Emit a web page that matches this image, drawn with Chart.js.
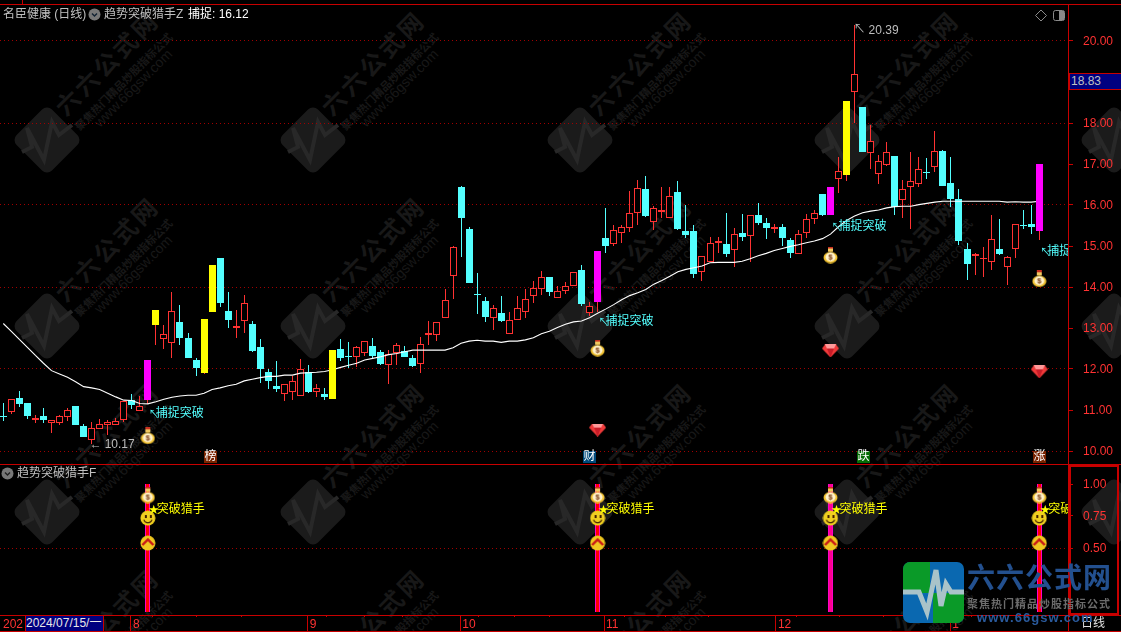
<!DOCTYPE html>
<html>
<head>
<meta charset="utf-8">
<title>名臣健康 (日线)</title>
<script src="https://cdn.jsdelivr.net/npm/chart.js@4/dist/chart.umd.min.js"></script>
<style>
html, body { margin: 0; padding: 0; background: #000; width: 1121px; height: 632px; overflow: hidden; }
body { position: relative; font: 12px "Liberation Sans", "Noto Sans CJK SC", sans-serif; color: #c0c0c0; }
canvas { position: absolute; left: 0; z-index: 1; }
#mainChart { top: 0; }
#subChart { top: 465px; }
.txt, .ln { position: absolute; z-index: 2; white-space: nowrap; }
.ln { background: #c80000; }
.txt { line-height: 16px; }
.wm { position: absolute; z-index: 0; white-space: nowrap; font-family: "Noto Sans CJK SC", sans-serif; font-weight: 700; transform: translate(-50%, -50%) rotate(-45deg); color: #181818; }
.logo { position: absolute; z-index: 3; white-space: nowrap; font-family: "Noto Sans CJK SC", sans-serif; font-weight: 700; }
</style>
</head>
<body>
<canvas id="mainChart" width="1121" height="465"></canvas>
<canvas id="subChart" width="1121" height="167"></canvas>

<div class="ln" style="left:0;top:4px;width:1121px;height:1px"></div>
<div class="ln" style="left:22px;top:0;width:1px;height:4px"></div>
<div class="ln" style="left:1068px;top:4px;width:1px;height:628px"></div>
<div class="ln" style="left:0;top:464px;width:1121px;height:1px"></div>
<div class="ln" style="left:0;top:615px;width:1121px;height:1px"></div>
<div class="ln" style="left:0;top:631px;width:1121px;height:1px"></div>
<div class="ln" style="left:25px;top:615px;width:1px;height:17px"></div>
<div class="ln" style="left:103px;top:615px;width:1px;height:17px"></div>
<div style="position:absolute;z-index:2;left:1069px;top:465px;width:46px;height:146px;border:2px solid #c80000"></div>

<div class="txt" style="left:3px;top:6px">名臣健康 (日线)</div>
<svg style="position:absolute;z-index:2;left:88px;top:8px" width="13" height="13"><circle cx="6.5" cy="6.5" r="6" fill="#787878"/><path d="M4 5.5 L6.5 8 L9 5.5" stroke="#123" stroke-width="1.4" fill="none"/></svg>
<div class="txt" style="left:104px;top:6px">趋势突破猎手Z</div>
<div class="txt" style="left:188px;top:6px;color:#fff">捕捉: 16.12</div>
<svg style="position:absolute;z-index:2;left:1034px;top:9px" width="32" height="13"><path d="M7 1 L12.5 6.5 L7 12 L1.5 6.5 Z" stroke="#8a8a8a" fill="none"/><rect x="19.5" y="1.5" width="11" height="10" rx="2" stroke="#8a8a8a" fill="none"/><rect x="25" y="2" width="5" height="9" fill="#8a8a8a"/></svg>

<svg style="position:absolute;z-index:2;left:1px;top:467px" width="13" height="13"><circle cx="6.5" cy="6.5" r="6" fill="#787878"/><path d="M4 5.5 L6.5 8 L9 5.5" stroke="#222" stroke-width="1.4" fill="none"/></svg>
<div class="txt" style="left:17px;top:465px">趋势突破猎手F</div>

<div class="txt" style="left:1069px;top:73px;width:50px;height:15px;line-height:15px;background:#000080;border:1px solid #c80000;padding-left:1px;box-sizing:content-box">18.83</div>
<div class="txt" style="left:3px;top:616px;color:#ff3232">202</div>
<div class="txt" style="left:26px;top:616px;width:77px;height:15px;line-height:15px;background:#000080;color:#e8e8e8">2024/07/15/一</div>
<div class="txt" style="left:1081px;top:615px;color:#e0e0e0">日线</div>

<svg style="position:absolute;z-index:3;left:903px;top:562px" width="61" height="61">
  <defs><clipPath id="lc"><rect width="61" height="61" rx="7"/></clipPath></defs>
  <g clip-path="url(#lc)">
    <rect width="61" height="61" fill="#0a68b0"/>
    <rect x="0" y="0" width="27" height="31" fill="#0a9a28"/>
    <rect x="30" y="31" width="31" height="30" fill="#0a9a28"/>
    <polyline points="0,30 16,30 24,50 33,8 38,44 43,22 48,30 61,30" fill="none" stroke="#a9c3c9" stroke-width="5"/>
  </g>
</svg>
<div class="logo" style="left:967px;top:557px;font-size:28px;line-height:38px;letter-spacing:1px;color:#23508f">六六公式网</div>
<div class="logo" style="left:967px;top:596px;font-size:11px;line-height:14px;letter-spacing:1px;color:#6c6c6c">聚焦热门精品炒股指标公式</div>
<div class="logo" style="left:977px;top:610px;font-size:13px;line-height:16px;letter-spacing:1.05px;color:#2a5a9c;font-family:'Liberation Sans',sans-serif">www.66gsw.com</div>

<script>
// candle data, one value per trading day
const opens = [10.86,10.96,11.29,11.17,10.76,10.85,10.69,10.69,10.84,11.10,10.61,10.28,10.54,10.64,10.64,10.76,11.24,10.98,11.24,13.07,
  12.74,12.64,13.15,12.75,12.22,11.90,13.39,14.71,13.41,13.01,13.18,13.10,12.54,11.93,11.59,11.40,11.45,11.35,11.93,11.45,
  11.39,11.27,12.49,12.32,12.30,12.40,12.56,12.41,12.09,12.38,12.44,12.27,12.13,12.82,12.84,13.25,14.28,16.44,15.41,13.83,
  13.66,13.25,13.37,12.86,13.20,13.40,13.79,13.96,14.24,13.74,13.90,14.03,14.41,13.37,13.63,15.20,15.06,15.31,15.45,15.80,
  16.39,15.58,15.83,15.68,16.32,15.37,15.37,14.36,14.62,15.07,15.05,14.90,15.32,15.25,15.76,15.56,15.41,15.46,15.15,14.81,
  15.31,15.66,16.27,15.76,16.64,16.74,18.76,18.39,17.28,16.76,16.98,17.20,16.13,16.45,16.52,16.80,16.93,17.32,16.54,16.15,
  14.93,14.75,14.68,14.60,14.93,14.48,14.92,15.51,15.54,15.37];
const highs = [11.16,11.26,11.46,11.17,10.89,11.04,10.76,10.89,11.05,11.10,10.66,10.71,10.77,10.76,10.80,11.22,11.39,11.34,12.22,13.44,
  13.07,13.88,13.56,12.89,12.27,13.22,14.54,14.71,13.88,13.44,13.80,13.18,12.74,12.01,12.20,11.63,11.83,12.24,12.10,11.63,
  11.54,12.46,12.73,12.66,12.56,12.68,12.76,12.46,12.46,12.63,12.56,12.33,12.78,13.17,13.14,13.95,14.99,16.47,15.46,14.34,
  13.76,13.56,13.78,13.38,13.78,13.95,14.15,14.39,14.24,14.02,14.12,14.36,14.54,13.63,14.88,15.93,15.51,15.51,16.34,16.61,
  16.71,15.98,16.44,16.44,16.59,16.00,15.51,14.75,15.22,15.22,15.80,15.43,15.78,15.75,16.05,15.68,15.54,15.54,15.20,15.39,
  15.78,15.87,16.27,16.44,17.17,18.54,20.39,18.39,17.95,17.22,17.54,17.20,16.61,17.29,17.17,17.15,17.80,17.34,17.17,16.39,
  15.07,14.82,14.98,15.76,15.66,14.76,15.53,15.88,16.00,17.00];
const lows = [10.74,10.90,11.08,10.79,10.69,10.69,10.45,10.63,10.74,10.64,10.35,10.17,10.54,10.39,10.63,10.71,11.02,10.98,11.15,12.59,
  12.49,12.27,12.59,12.27,11.83,11.88,13.39,13.52,13.01,12.76,12.89,12.42,11.67,11.52,11.45,11.22,11.24,11.35,11.42,11.31,
  11.24,11.27,12.20,12.02,12.06,12.32,12.25,12.10,11.63,12.10,12.30,12.05,11.91,12.59,12.68,13.25,13.71,14.72,14.10,13.34,
  13.15,12.95,13.15,12.86,13.20,13.24,13.61,13.80,13.78,13.74,13.83,14.03,13.54,13.29,13.39,14.84,15.00,15.07,15.35,15.51,
  15.71,15.39,15.68,15.68,15.39,15.20,14.22,14.15,14.62,14.83,14.73,14.49,15.12,14.62,15.51,15.17,15.32,15.00,14.71,14.81,
  15.20,15.54,15.73,15.76,16.30,16.59,18.01,17.29,16.89,16.52,16.95,15.76,15.69,15.42,16.45,16.63,16.81,16.47,15.96,15.02,
  14.17,14.29,14.24,14.41,14.78,14.05,14.71,15.41,15.29,15.15];
const closes = [10.84,11.26,11.15,10.85,10.80,10.76,10.76,10.85,10.99,10.64,10.35,10.55,10.65,10.70,10.72,11.22,11.11,11.09,12.22,13.44,
  12.85,13.41,12.76,12.27,12.02,13.22,14.54,13.62,13.20,13.05,13.60,12.45,12.01,11.71,11.51,11.63,11.70,11.99,11.44,11.53,
  11.32,12.46,12.27,12.30,12.53,12.68,12.32,12.12,12.37,12.58,12.30,12.07,12.60,12.87,13.14,13.68,14.97,15.68,14.10,13.80,
  13.27,13.48,13.17,13.19,13.50,13.70,13.97,14.24,13.88,13.90,14.02,14.36,13.59,13.53,14.88,15.00,15.38,15.46,15.80,16.41,
  15.73,15.92,15.88,16.21,15.41,15.27,14.32,14.75,15.07,15.12,14.80,15.29,15.22,15.75,15.56,15.44,15.46,15.20,14.83,15.29,
  15.65,15.80,15.76,16.44,16.84,18.54,19.19,17.29,17.55,17.07,17.29,15.94,16.38,16.58,16.87,16.78,17.31,16.47,16.15,15.12,
  14.56,14.80,14.71,15.16,14.80,14.72,15.53,15.49,15.46,17.00];
// white moving average line
const maLine = [13.11,12.92,12.72,12.53,12.33,12.14,11.96,11.88,11.80,11.69,11.57,11.54,11.50,11.41,11.32,11.24,11.23,11.16,11.15,11.20,
  11.26,11.31,11.34,11.36,11.36,11.41,11.50,11.54,11.59,11.63,11.71,11.75,11.79,11.82,11.82,11.85,11.85,11.90,11.91,11.92,
  11.94,11.98,12.04,12.09,12.14,12.22,12.26,12.30,12.35,12.38,12.42,12.46,12.46,12.46,12.46,12.46,12.52,12.63,12.68,12.70,
  12.68,12.68,12.65,12.68,12.68,12.71,12.76,12.86,12.92,13.01,13.09,13.15,13.17,13.25,13.36,13.46,13.57,13.69,13.79,13.86,
  13.94,14.07,14.16,14.26,14.37,14.43,14.47,14.51,14.59,14.60,14.60,14.60,14.63,14.69,14.76,14.82,14.89,14.94,14.99,15.03,
  15.08,15.12,15.18,15.29,15.47,15.62,15.73,15.81,15.85,15.88,15.93,15.96,15.97,15.97,16.01,16.04,16.07,16.09,16.09,16.09,
  16.09,16.09,16.09,16.09,16.09,16.07,16.08,16.07,16.07,16.09];

// days painted solid by the indicator
const magentaDays = [18, 74, 103, 129];
const yellowDays = [19, 25, 26, 41, 105];

const mainTicks = [10, 11, 12, 13, 14, 15, 16, 17, 18, 20];
const mainGrid = [10, 12, 14, 16, 18, 20];
const subTicks = [0.5, 0.75, 1];

// markers
const signalDays = [18, 74, 103, 129];
const bagPrices = [10.37, 12.51, 14.78, 14.20];
const gemDays = [74, 103, 129];
const gemPrices = [10.51, 12.44, 11.93];
const labelPrices = [10.90, 13.15, 15.46, 14.85];
const tagDays = [25.8, 72.87, 107.05, 129];
const tagTexts = ['榜', '财', '跌', '涨'];
const tagColors = ['#7a2400', '#00497a', '#056b05', '#7a2400'];

// lower panel
const subBars = [1, 1, 1, 1];
const subInner = ['#ff0000', '#ff0000', '#ff0090', '#ff0000'];
const subBag = [0.914, 0.914, 0.914, 0.914];
const subSmile = [0.734, 0.734, 0.734, 0.734];
const subUp = [0.539, 0.539, 0.539, 0.539];
const subTextLevel = 0.797;

// date strip
const monthTicks = [15.9, 37.9, 56.9, 74.8, 96.2, 117.9];
const monthLabels = ['8', '9', '10', '11', '12', '1'];
const weekTicks = [21.3, 26.9, 32.4, 42.5, 47.4, 52.1, 61.4, 65.8, 70.3, 79.9, 85.1, 90.4, 101.3, 106.9, 112.4, 123.3];

const RED = '#ff3232', CYAN = '#54ffff', GRID = '#a00000', FONT = '"Liberation Sans","Noto Sans CJK SC",sans-serif';
const isSolid = i => magentaDays.includes(i) || yellowDays.includes(i);
const days = opens.map((_, i) => i);
const isUp = i => closes[i] >= opens[i];

// watermark tiles
[47, 313, 580, 847, 1114].forEach(cx => [140, 326, 512, 698].forEach(cy => {
  const s = document.createElementNS('http://www.w3.org/2000/svg', 'svg');
  s.setAttribute('width', 90); s.setAttribute('height', 90);
  s.style.cssText = 'position:absolute;z-index:0;left:' + (cx - 45) + 'px;top:' + (cy - 45) + 'px';
  s.innerHTML = '<rect x="20" y="20" width="50" height="50" rx="7" fill="#1b1b1b" transform="rotate(45 45 45)"/>' +
    '<polyline points="20,57 30,52 25,33 42,65 50,27 57,40 70,30" fill="none" stroke="#282828" stroke-width="4"/>';
  document.body.appendChild(s);
  [['六六公式网', 24, 59, -78, 3], ['聚焦热门精品炒股指标公式', 11, 76, -59, 0], ['www.66gsw.com', 14, 86, -52, 0]].forEach(t => {
    const d = document.createElement('div');
    d.className = 'wm';
    d.textContent = t[0];
    d.style.fontSize = t[1] + 'px';
    d.style.letterSpacing = t[4] + 'px';
    d.style.left = (cx + t[2]) + 'px';
    d.style.top = (cy + t[3]) + 'px';
    if (t[1] === 14) { d.style.fontWeight = 400; d.style.fontFamily = '"Liberation Sans",sans-serif'; }
    document.body.appendChild(d);
  });
}));

// small pictures used as point styles
function sprite(w, h, draw) {
  const c = document.createElement('canvas');
  c.width = w; c.height = h;
  draw(c.getContext('2d'));
  return c;
}
const bagIcon = sprite(15, 17, g => {
  g.fillStyle = '#c83020'; g.fillRect(5, 0, 5, 2);
  g.fillStyle = '#f0c860'; g.fillRect(5, 2, 5, 3);
  g.beginPath(); g.ellipse(7.5, 11, 7, 5.8, 0, 0, Math.PI * 2); g.fillStyle = '#f2c230'; g.fill();
  g.beginPath(); g.ellipse(7.5, 10.5, 5, 4.4, 0, 0, Math.PI * 2); g.fillStyle = '#fff2cc'; g.fill();
  g.fillStyle = '#7a3a10'; g.font = 'bold 8px "Liberation Sans"'; g.textAlign = 'center'; g.textBaseline = 'middle';
  g.fillText('$', 7.5, 10.8);
});
const gemIcon = sprite(17, 13, g => {
  g.beginPath(); g.moveTo(3, 0); g.lineTo(14, 0); g.lineTo(17, 4); g.lineTo(8.5, 13); g.lineTo(0, 4); g.closePath();
  g.fillStyle = '#f03a3a'; g.fill();
  g.fillStyle = '#ff9a9a'; g.beginPath(); g.moveTo(3, 0); g.lineTo(14, 0); g.lineTo(12, 4); g.lineTo(5, 4); g.closePath(); g.fill();
  g.fillStyle = '#c81c28'; g.beginPath(); g.moveTo(5, 4); g.lineTo(12, 4); g.lineTo(8.5, 13); g.closePath(); g.fill();
});
const smileIcon = sprite(16, 16, g => {
  g.beginPath(); g.arc(8, 8, 7.5, 0, Math.PI * 2); g.fillStyle = '#f0d020'; g.fill();
  g.fillStyle = '#402000'; g.fillRect(5, 5, 2, 3); g.fillRect(10, 5, 2, 3);
  g.beginPath(); g.arc(8, 8.5, 4.2, 0.25, Math.PI - 0.25); g.strokeStyle = '#402000'; g.lineWidth = 1.2; g.stroke();
});
const upIcon = sprite(16, 16, g => {
  g.beginPath(); g.arc(8, 8, 7.5, 0, Math.PI * 2); g.fillStyle = '#f0c820'; g.fill();
  g.beginPath(); g.moveTo(2.5, 10); g.lineTo(8, 4.5); g.lineTo(13.5, 10); g.strokeStyle = '#c81818'; g.lineWidth = 2.4; g.stroke();
});

// snap the bars to whole pixels so candles stay sharp like the terminal's
const snapBars = {
  id: 'snapBars',
  beforeDatasetsDraw(chart) {
    chart.getSortedVisibleDatasetMetas().forEach(meta => {
      if (meta.type !== 'bar') return;
      meta.data.forEach(el => {
        el.x = Math.floor(el.x) + 0.5;
        const a = Math.round(el.y);
        let b = Math.round(el.base);
        if (a === b) b = a + 1;
        el.y = a; el.base = b;
      });
    });
  }
};

const mainMarks = {
  id: 'mainMarks',
  afterDatasetsDraw(chart) {
    const { ctx, chartArea: area, scales: { x, y } } = chart;
    ctx.save();
    ctx.beginPath(); ctx.rect(area.left, area.top, area.right - area.left, area.bottom - area.top); ctx.clip();
    ctx.textBaseline = 'middle';
    signalDays.forEach((d, k) => {
      const px = x.getPixelForValue(d), py = y.getPixelForValue(labelPrices[k]);
      ctx.fillStyle = CYAN;
      ctx.font = '10px ' + FONT;
      ctx.fillText('↖', px + 1, py);
      ctx.font = '12px ' + FONT;
      ctx.fillText('捕捉突破', px + 8, py);
    });
    // extremes
    ctx.fillStyle = '#bdbdbd';
    ctx.font = '12px ' + FONT;
    const li = lows.indexOf(Math.min(...lows)), hi = highs.indexOf(Math.max(...highs));
    ctx.fillText('←', x.getPixelForValue(li) - 2, y.getPixelForValue(lows[li]) + 1);
    ctx.fillText(lows[li].toFixed(2), x.getPixelForValue(li) + 13, y.getPixelForValue(lows[li]) + 1);
    ctx.fillText('↖', x.getPixelForValue(hi) - 1, y.getPixelForValue(highs[hi]) + 5);
    ctx.fillText(highs[hi].toFixed(2), x.getPixelForValue(hi) + 14, y.getPixelForValue(highs[hi]) + 6);
    // small tags on the bottom of the price panel
    ctx.textAlign = 'center';
    tagDays.forEach((d, k) => {
      const px = Math.round(x.getPixelForValue(d));
      ctx.fillStyle = tagColors[k];
      ctx.fillRect(px - 6, 451, 13, 12);
      ctx.fillStyle = '#fff';
      ctx.fillText(tagTexts[k], px + 0.5, 457);
    });
    ctx.restore();
  }
};

const subMarks = {
  id: 'subMarks',
  afterDatasetsDraw(chart) {
    const { ctx, chartArea: area, scales: { x, y } } = chart;
    ctx.save();
    ctx.beginPath(); ctx.rect(area.left, area.top, area.right - area.left, area.bottom - area.top); ctx.clip();
    ctx.textBaseline = 'middle';
    ctx.fillStyle = '#ffff00';
    signalDays.forEach(d => {
      const px = x.getPixelForValue(d), py = y.getPixelForValue(subTextLevel);
      ctx.font = '10px ' + FONT;
      ctx.fillText('★', px + 1, py);
      ctx.font = '12px ' + FONT;
      ctx.fillText('突破猎手', px + 9, py);
    });
    ctx.restore();
    // month separators in the date strip
    ctx.fillStyle = '#c80000';
    monthTicks.forEach(m => ctx.fillRect(Math.floor(x.getPixelForValue(m)), area.bottom, 1, 17));
  }
};

// x scale: bar i sits at 3.3 + 8.031 * i pixels
const xMin = -3.3 / 8.031, xMax = (1068 - 3.3) / 8.031;
// keep the plot area flush with the canvas, tick labels must not inset it
const fitRightAxis = s => { s.width = 53; s.paddingTop = 0; s.paddingBottom = 0; };

new Chart(document.getElementById('mainChart'), {
  data: {
    datasets: [
      { type: 'bar', order: 6, barThickness: 1, inflateAmount: 0,
        data: days.map(i => ({ x: i, y: [lows[i], highs[i]] })),
        backgroundColor: days.map(i => (isUp(i) ? RED : CYAN)) },
      { type: 'bar', order: 5, barThickness: 7, inflateAmount: 0, borderWidth: 1, borderSkipped: false,
        data: days.filter(i => !isSolid(i)).map(i => ({ x: i, y: [opens[i], closes[i]] })),
        backgroundColor: days.filter(i => !isSolid(i)).map(i => (isUp(i) ? '#000' : CYAN)),
        borderColor: days.filter(i => !isSolid(i)).map(i => (isUp(i) ? RED : CYAN)) },
      { type: 'line', order: 4, borderColor: '#fff', borderWidth: 1.1, pointRadius: 0, tension: 0,
        data: days.map(i => ({ x: i, y: maLine[i] })) },
      { type: 'bar', order: 3, barThickness: 7, inflateAmount: 0,
        data: magentaDays.map(i => ({ x: i, y: [opens[i], closes[i]] })), backgroundColor: '#ff00ff' },
      { type: 'bar', order: 2, barThickness: 7, inflateAmount: 0,
        data: yellowDays.map(i => ({ x: i, y: [opens[i], closes[i]] })), backgroundColor: '#ffff00' },
      { type: 'scatter', order: 1, pointStyle: bagIcon, pointRadius: 8,
        data: signalDays.map((d, k) => ({ x: d, y: bagPrices[k] })) },
      { type: 'scatter', order: 1, pointStyle: gemIcon, pointRadius: 8,
        data: gemDays.map((d, k) => ({ x: d, y: gemPrices[k] })) }
    ]
  },
  options: {
    responsive: false,
    animation: false,
    layout: { padding: 0, autoPadding: false },
    datasets: { bar: { grouped: false } },
    plugins: { legend: { display: false }, tooltip: { enabled: false } },
    scales: {
      x: { type: 'linear', display: false, offset: false, min: xMin, max: xMax },
      y: {
        position: 'right',
        min: 21 - 465 / 41,
        max: 21,
        afterFit: fitRightAxis,
        afterBuildTicks: s => { s.ticks = mainTicks.map(v => ({ value: v })); },
        border: { display: false, dash: [1, 3] },
        grid: {
          color: c => (c.tick && mainGrid.includes(c.tick.value) ? GRID : 'transparent'),
          tickColor: '#c80000', tickLength: 5, tickBorderDash: []
        },
        ticks: { color: RED, padding: 10, labelOffset: 1, autoSkip: false, font: { size: 12, family: FONT }, callback: v => v.toFixed(2) }
      }
    }
  },
  plugins: [snapBars, mainMarks]
});

new Chart(document.getElementById('subChart'), {
  data: {
    datasets: [
      { type: 'bar', order: 5, barThickness: 5, inflateAmount: 0,
        data: signalDays.map((d, k) => ({ x: d, y: [0, subBars[k]] })), backgroundColor: '#ff00c8' },
      { type: 'bar', order: 4, barThickness: 3, inflateAmount: 0,
        data: signalDays.map((d, k) => ({ x: d, y: [0, subBars[k]] })), backgroundColor: subInner },
      { type: 'scatter', order: 3, pointStyle: upIcon, pointRadius: 8,
        data: signalDays.map((d, k) => ({ x: d, y: subUp[k] })) },
      { type: 'scatter', order: 2, pointStyle: smileIcon, pointRadius: 8,
        data: signalDays.map((d, k) => ({ x: d, y: subSmile[k] })) },
      { type: 'scatter', order: 1, pointStyle: bagIcon, pointRadius: 8,
        data: signalDays.map((d, k) => ({ x: d, y: subBag[k] })) }
    ]
  },
  options: {
    responsive: false,
    animation: false,
    layout: { padding: 0, autoPadding: false },
    datasets: { bar: { grouped: false } },
    plugins: { legend: { display: false }, tooltip: { enabled: false } },
    scales: {
      x: {
        type: 'linear', offset: false, min: xMin, max: xMax,
        afterFit: s => { s.height = 17; },
        afterBuildTicks: s => { s.ticks = weekTicks.concat(monthTicks).sort((a, b) => a - b).map(v => ({ value: v })); },
        border: { display: false },
        grid: { drawOnChartArea: false, tickLength: 2, tickColor: c => (c.tick && !monthTicks.includes(c.tick.value) ? '#c80000' : 'transparent') },
        ticks: {
          color: RED, padding: 0, autoSkip: false, maxRotation: 0, labelOffset: 2, align: 'start',
          font: { size: 12, family: FONT },
          callback: v => (monthTicks.includes(v) ? monthLabels[monthTicks.indexOf(v)] : '')
        }
      },
      y: {
        position: 'right',
        min: 1 - 131 / 128,
        max: 1 + 19 / 128,
        afterFit: fitRightAxis,
        afterBuildTicks: s => { s.ticks = subTicks.map(v => ({ value: v })); },
        border: { display: false, dash: [1, 3] },
        grid: {
          color: c => (c.tick && c.tick.value === 0.5 ? GRID : 'transparent'),
          tickColor: '#c80000', tickLength: 5, tickBorderDash: []
        },
        ticks: { color: RED, padding: 10, labelOffset: 1, autoSkip: false, font: { size: 12, family: FONT }, callback: v => v.toFixed(2) }
      }
    }
  },
  plugins: [snapBars, subMarks]
});
</script>
</body>
</html>
